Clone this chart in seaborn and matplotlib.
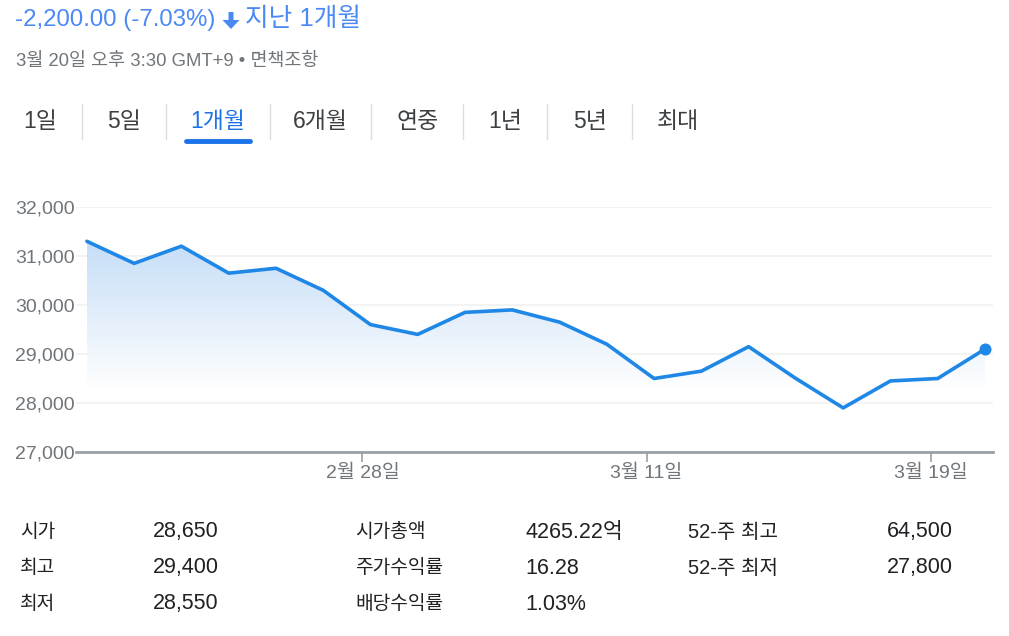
import numpy as np
import pandas as pd
import matplotlib
matplotlib.use("Agg")
import matplotlib.pyplot as plt
from matplotlib.colors import LinearSegmentedColormap
from matplotlib.patches import Polygon
import seaborn as sns

# price data (1 month, daily close)
dates = ["2/21", "2/22", "2/23", "2/26", "2/27", "2/28", "2/29", "3/4", "3/5", "3/6",
         "3/7", "3/8", "3/11", "3/12", "3/13", "3/14", "3/15", "3/18", "3/19", "3/20"]
prices = [31300, 30850, 31200, 30650, 30750, 30300, 29600, 29400, 29850, 29900,
          29650, 29200, 28500, 28650, 29150, 28500, 27900, 28450, 28500, 29100]

y_ticks = [27000, 28000, 29000, 30000, 31000, 32000]
x_tick_labels = ["2월 28일", "3월 11일", "3월 19일"]
x_tick_pos = [5.83, 11.84, 17.86]   # google puts the day ticks between points

tabs = ["1일", "5일", "1개월", "6개월", "연중", "1년", "5년", "최대"]
selected_tab = "1개월"

stat_labels = ["시가", "최고", "최저", "시가총액", "주가수익률", "배당수익률", "52-주 최고", "52-주 최저"]
stat_values = ["28,650", "29,400", "28,550", "4265.22억", "16.28", "1.03%", "64,500", "27,800"]

header_change = "-2,200.00 (-7.03%)"
header_period = "지난 1개월"
sub_header = "3월 20일 오후 3:30 GMT+9 • 면책조항"

sns.set_theme(style="white")
plt.rcParams["font.family"] = ["Liberation Sans", "Noto Sans CJK KR", "DejaVu Sans"]

BLUE = "#1f87e5"
HEAD_BLUE = "#4a8af4"
GRAY = "#70757a"
DARK = "#3c4043"

df = pd.DataFrame({"i": np.arange(len(prices)), "price": prices, "date": dates})

fig = plt.figure(figsize=(10.09, 6.36), dpi=100)
W, H = 1009, 636

def fx(x):
    return x / W

def fy(y):
    return 1 - y / H

# ---- header text
fig.text(fx(15), fy(20), header_change, color=HEAD_BLUE, fontsize=17.3, va="center", ha="left")
# down arrow drawn as a polygon (pixel coords -> figure fractions)
arrow_px = [(228.5, 12), (233.5, 12), (233.5, 20), (239.5, 20), (231, 29), (222.5, 20), (228.5, 20)]
fig.add_artist(Polygon([(fx(x), fy(y)) for x, y in arrow_px], closed=True,
                       transform=fig.transFigure, color=HEAD_BLUE, lw=0))
fig.text(fx(245), fy(19), header_period, color=HEAD_BLUE, fontsize=18.5, va="center", ha="left")
fig.text(fx(16), fy(61), sub_header, color=GRAY, fontsize=13.3, va="center", ha="left")

# ---- range tabs
tab_x = [40, 124, 218, 320, 418, 505, 590, 678]
sep_x = [82, 166, 270, 371, 463, 547, 632]
for t, x in zip(tabs, tab_x):
    fig.text(fx(x), fy(121), t, color=("#1a73e8" if t == selected_tab else DARK),
             fontsize=16.5, va="center", ha="center")
for x in sep_x:
    fig.add_artist(plt.Line2D([fx(x), fx(x)], [fy(104), fy(139)], color="#dadce0", lw=1))
sel = tab_x[tabs.index(selected_tab)]
fig.add_artist(plt.Line2D([fx(sel - 32), fx(sel + 32)], [fy(141), fy(141)], color="#1a73e8",
                          lw=3.5, solid_capstyle="round"))

# ---- chart
ax = fig.add_axes([fx(76), fy(452), fx(993) - fx(76), fy(207) - fy(452)])
ax.set_xlim(-0.23, 19.17)
ax.set_ylim(27000, 32000)

# gradient area under the line
base = 28250
poly = ax.fill_between(df["i"], df["price"], base, color="none", lw=0)
cmap = LinearSegmentedColormap.from_list("grad", ["#ffffff", "#c6def7"])
grad = np.linspace(0, 1, 256).reshape(-1, 1)
im = ax.imshow(grad, cmap=cmap, aspect="auto", origin="lower",
               extent=[0, len(prices) - 1, base, max(prices)], zorder=1)
im.set_clip_path(poly.get_paths()[0], transform=ax.transData)

sns.lineplot(data=df, x="i", y="price", ax=ax, color=BLUE, lw=2.6, zorder=3)
ax.scatter(df["i"].iloc[-1], df["price"].iloc[-1], s=75, color=BLUE, zorder=4, lw=0)

ax.set_yticks(y_ticks)
ax.set_yticklabels([f"{v:,}" for v in y_ticks])
ax.set_xticks(x_tick_pos)
ax.set_xticklabels(x_tick_labels)
ax.set_xlabel("")
ax.set_ylabel("")
for v in y_ticks[1:]:
    ax.axhline(v, color="#f1f1f1", lw=1.2, zorder=0)

for s in ["top", "right", "left"]:
    ax.spines[s].set_visible(False)
ax.spines["bottom"].set_color("#9aa0a6")
ax.spines["bottom"].set_linewidth(2)
ax.tick_params(axis="y", length=0, pad=1, labelsize=14, labelcolor=GRAY)
ax.tick_params(axis="x", length=7, width=1.2, color="#9aa0a6", direction="out", pad=2,
               labelsize=14, labelcolor=GRAY, bottom=True)
ax.set_facecolor("white")

# ---- stats table
col_label_x = [20, 355, 688]
col_value_x = [153, 525, 887]
row_y = [532, 568, 604]
for k, (lab, val) in enumerate(zip(stat_labels, stat_values)):
    c = k // 3
    r = k % 3
    lab_size = 14.5 if lab[0].isdigit() else 13.8
    fig.text(fx(col_label_x[c]), fy(row_y[r]), lab, color="#202124", fontsize=lab_size,
             va="center", ha="left")
    fig.text(fx(col_value_x[c]), fy(row_y[r]), val, color="#202124", fontsize=15.5,
             va="center", ha="left")

fig.savefig("out.png", dpi=100, facecolor="white")
